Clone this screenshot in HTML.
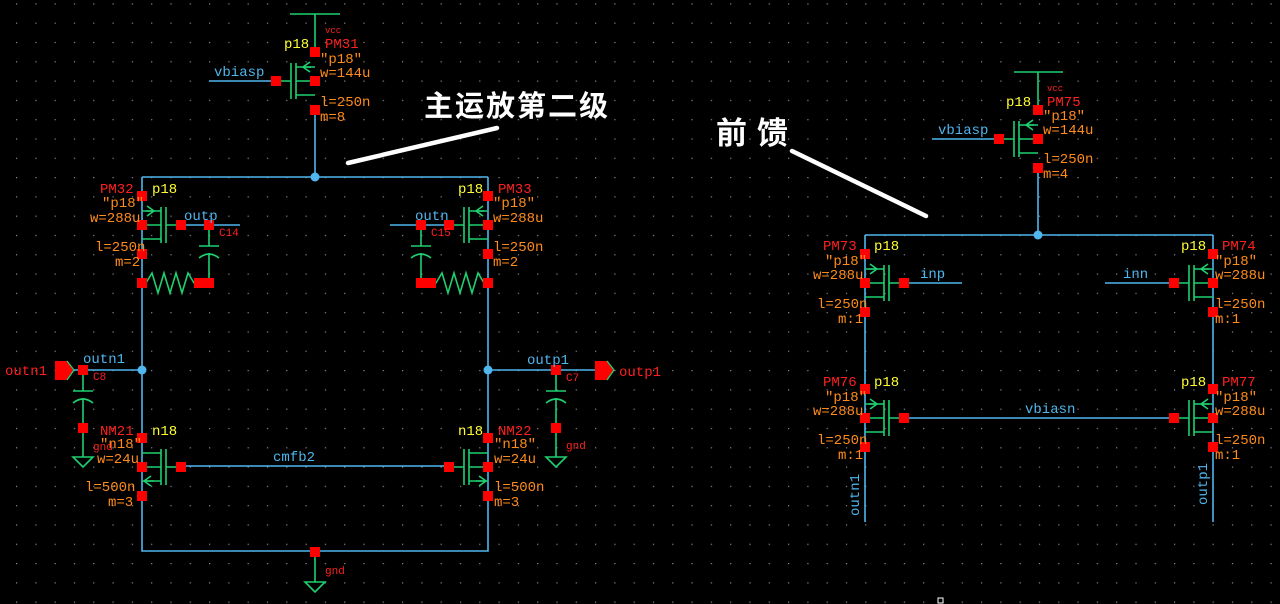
<!DOCTYPE html>
<html><head><meta charset="utf-8">
<style>
html,body{margin:0;padding:0;background:#000;}
svg{display:block;}
text{font-family:"Liberation Mono",monospace;font-size:14px;}
.o{fill:#ff8c1a}.r{fill:#ff2020}.y{fill:#ffff33}.b{fill:#4fb6ee}
.cn{font-family:"Liberation Sans","Noto Sans CJK SC",sans-serif;font-weight:bold;fill:#fff}
</style></head><body>
<svg width="1280" height="604" viewBox="0 0 1280 604" xmlns="http://www.w3.org/2000/svg">
<defs>
<pattern id="g" x="16" y="3.3" width="19.3" height="19.3" patternUnits="userSpaceOnUse">
<rect x="0" y="0" width="1.2" height="1.2" fill="#8a8a9a"/>
</pattern>
<g id="pm">
<g stroke="#1fd070" stroke-width="1.6" fill="none">
<path d="M0,-14H19M0,0H19M0,14H19M19,-18V18M24,-18V18M24,0H39"/>
<path d="M5,-19L12,-14L5,-9M4,-14H12"/>
</g>
<rect x="-5" y="-34" width="10" height="10" fill="#f00"/>
<rect x="-5" y="-5" width="10" height="10" fill="#f00"/>
<rect x="-5" y="24" width="10" height="10" fill="#f00"/>
<rect x="34" y="-5" width="10" height="10" fill="#f00"/>
</g>
<g id="nm">
<g stroke="#1fd070" stroke-width="1.6" fill="none">
<path d="M0,-14H19M0,0H19M0,14H19M19,-18V18M24,-18V18M24,0H39"/>
<path d="M9,9L2,14L9,19M2,14H12"/>
</g>
<rect x="-5" y="-34" width="10" height="10" fill="#f00"/>
<rect x="-5" y="-5" width="10" height="10" fill="#f00"/>
<rect x="-5" y="24" width="10" height="10" fill="#f00"/>
<rect x="34" y="-5" width="10" height="10" fill="#f00"/>
</g>
<g id="cap">
<g stroke="#1fd070" stroke-width="1.6" fill="none">
<path d="M0,0V21M-10,21H10M-10,33Q0,25 10,33M0,28V58"/>
</g>
</g>
<g id="gnd"><path d="M-10,0H10L0,10Z" fill="none" stroke="#1fd070" stroke-width="1.6"/></g>
</defs>
<rect width="1280" height="604" fill="#000"/>
<rect width="1280" height="604" fill="url(#g)"/>

<g stroke="#4fb6ee" stroke-width="1.6" fill="none">
<path d="M209,81H276"/>
<path d="M315,110V177M142,177H488M142,177V551H488V177"/>
<path d="M180,225H240M390,225H450"/>
<path d="M55,370H142M488,370H595"/>
<path d="M180,466H450"/>
</g>
<g stroke="#1fd070" stroke-width="1.6" fill="none">
<path d="M290,14H340M315,14V52"/>
<path d="M315,553V582"/>
<path d="M146,283l6,-10l6,20l6,-20l6,20l6,-20l6,20l6,-20l6,10H199"/>
<path d="M484,283l-6,-10l-6,20l-6,-20l-6,20l-6,-20l-6,20l-6,-20l-6,10H431"/>
<path d="M83,428V457M556,428V457"/>
</g>
<use href="#gnd" x="315" y="582"/>
<use href="#gnd" x="83" y="457"/>
<use href="#gnd" x="556" y="457"/>
<rect x="310" y="547" width="10" height="10" fill="#f00"/>
<circle cx="315" cy="177" r="4.5" fill="#4fb6ee"/>
<circle cx="142" cy="370" r="4.5" fill="#4fb6ee"/>
<circle cx="488" cy="370" r="4.5" fill="#4fb6ee"/>

<g transform="translate(315,81) scale(-1,1)"><use href="#pm"/></g>
<g transform="translate(142,225)"><use href="#pm"/></g>
<g transform="translate(488,225) scale(-1,1)"><use href="#pm"/></g>
<rect x="137" y="278" width="10" height="10" fill="#f00"/>
<rect x="483" y="278" width="10" height="10" fill="#f00"/>
<use href="#cap" x="209" y="225"/>
<use href="#cap" x="421" y="225"/>
<rect x="204" y="220" width="10" height="10" fill="#f00"/>
<rect x="416" y="220" width="10" height="10" fill="#f00"/>
<rect x="194" y="278" width="10" height="10" fill="#f00"/>
<rect x="204" y="278" width="10" height="10" fill="#f00"/>
<rect x="416" y="278" width="10" height="10" fill="#f00"/>
<rect x="426" y="278" width="10" height="10" fill="#f00"/>
<g transform="translate(142,467)"><use href="#nm"/></g>
<g transform="translate(488,467) scale(-1,1)"><use href="#nm"/></g>
<use href="#cap" x="83" y="370"/>
<use href="#cap" x="556" y="370"/>
<rect x="78" y="365" width="10" height="10" fill="#f00"/>
<rect x="78" y="423" width="10" height="10" fill="#f00"/>
<rect x="551" y="365" width="10" height="10" fill="#f00"/>
<rect x="551" y="423" width="10" height="10" fill="#f00"/>
<path d="M55,361H67L74,370L67,380H55Z" fill="#f00"/>
<path d="M67,361L74,370L67,380" fill="none" stroke="#1fd070" stroke-width="1.3"/>
<path d="M595,361H607L614,370L607,380H595Z" fill="#f00"/>
<path d="M607,361L614,370L607,380" fill="none" stroke="#1fd070" stroke-width="1.3"/>

<text x="325" y="33" class="r" style="font-size:9px">vcc</text>
<text x="325" y="48" class="r">PM31</text>
<text x="284" y="48" class="y">p18</text>
<text x="320" y="63" class="o">"p18"</text>
<text x="320" y="77" class="o">w=144u</text>
<text x="320" y="106" class="o">l=250n</text>
<text x="320" y="121" class="o">m=8</text>
<text x="214" y="76" class="b">vbiasp</text>

<text x="100" y="193" class="r">PM32</text>
<text x="152" y="193" class="y">p18</text>
<text x="102" y="207" class="o">"p18"</text>
<text x="90" y="222" class="o">w=288u</text>
<text x="95" y="251" class="o">l=250n</text>
<text x="115" y="266" class="o">m=2</text>
<text x="184" y="220" class="b">outp</text>
<text x="219" y="236" class="r" style="font-size:11px">C14</text>

<text x="498" y="193" class="r">PM33</text>
<text x="458" y="193" class="y">p18</text>
<text x="493" y="207" class="o">"p18"</text>
<text x="493" y="222" class="o">w=288u</text>
<text x="493" y="251" class="o">l=250n</text>
<text x="493" y="266" class="o">m=2</text>
<text x="415" y="220" class="b">outn</text>
<text x="431" y="236" class="r" style="font-size:11px">C15</text>

<text x="5" y="375" class="r">outn1</text>
<text x="83" y="363" class="b">outn1</text>
<text x="93" y="380" class="r" style="font-size:11px">C8</text>
<text x="100" y="435" class="r">NM21</text>
<text x="152" y="435" class="y">n18</text>
<text x="93" y="450" class="r" style="font-size:11px">gnd</text>
<text x="100" y="448" class="o">"n18"</text>
<text x="97" y="463" class="o">w=24u</text>
<text x="85" y="491" class="o">l=500n</text>
<text x="108" y="506" class="o">m=3</text>
<text x="273" y="461" class="b">cmfb2</text>
<text x="325" y="574" class="r" style="font-size:11px">gnd</text>

<text x="619" y="376" class="r">outp1</text>
<text x="527" y="364" class="b">outp1</text>
<text x="566" y="381" class="r" style="font-size:11px">C7</text>
<text x="566" y="449" class="r" style="font-size:11px">gnd</text>
<text x="498" y="435" class="r">NM22</text>
<text x="458" y="435" class="y">n18</text>
<text x="494" y="448" class="o">"n18"</text>
<text x="494" y="463" class="o">w=24u</text>
<text x="494" y="491" class="o">l=500n</text>
<text x="494" y="506" class="o">m=3</text>

<text x="424" y="116" class="cn" style="font-size:29px;letter-spacing:2px">主运放第二级</text>
<line x1="348" y1="163" x2="497" y2="128" stroke="#fff" stroke-width="4.5" stroke-linecap="round"/>
<text x="716" y="144" class="cn" style="font-size:31px;letter-spacing:10px">前馈</text>
<line x1="792" y1="151" x2="926" y2="216" stroke="#fff" stroke-width="4.5" stroke-linecap="round"/>

<g stroke="#4fb6ee" stroke-width="1.6" fill="none">
<path d="M932,139H999"/>
<path d="M1038,167V235M865,235H1213M865,235V522M1213,235V522"/>
<path d="M903,283H962M1105,283H1175"/>
<path d="M903,418H1175"/>
</g>
<g stroke="#1fd070" stroke-width="1.6" fill="none"><path d="M1014,72H1063M1038,72V110"/></g>
<circle cx="1038" cy="235" r="4.5" fill="#4fb6ee"/>
<g transform="translate(1038,139) scale(-1,1)"><use href="#pm"/></g>
<g transform="translate(865,283)"><use href="#pm"/></g>
<g transform="translate(1213,283) scale(-1,1)"><use href="#pm"/></g>
<g transform="translate(865,418)"><use href="#pm"/></g>
<g transform="translate(1213,418) scale(-1,1)"><use href="#pm"/></g>

<text x="1047" y="91" class="r" style="font-size:9px">vcc</text>
<text x="1047" y="106" class="r">PM75</text>
<text x="1006" y="106" class="y">p18</text>
<text x="1043" y="120" class="o">"p18"</text>
<text x="1043" y="134" class="o">w=144u</text>
<text x="1043" y="163" class="o">l=250n</text>
<text x="1043" y="178" class="o">m=4</text>
<text x="938" y="134" class="b">vbiasp</text>

<text x="823" y="250" class="r">PM73</text>
<text x="874" y="250" class="y">p18</text>
<text x="825" y="265" class="o">"p18"</text>
<text x="813" y="279" class="o">w=288u</text>
<text x="817" y="308" class="o">l=250n</text>
<text x="838" y="323" class="o">m:1</text>
<text x="920" y="278" class="b">inp</text>

<text x="1222" y="250" class="r">PM74</text>
<text x="1181" y="250" class="y">p18</text>
<text x="1215" y="265" class="o">"p18"</text>
<text x="1215" y="279" class="o">w=288u</text>
<text x="1215" y="308" class="o">l=250n</text>
<text x="1215" y="323" class="o">m:1</text>
<text x="1123" y="278" class="b">inn</text>

<text x="823" y="386" class="r">PM76</text>
<text x="874" y="386" class="y">p18</text>
<text x="825" y="401" class="o">"p18"</text>
<text x="813" y="415" class="o">w=288u</text>
<text x="817" y="444" class="o">l=250n</text>
<text x="838" y="459" class="o">m:1</text>
<text x="1025" y="413" class="b">vbiasn</text>

<text x="1222" y="386" class="r">PM77</text>
<text x="1181" y="386" class="y">p18</text>
<text x="1215" y="401" class="o">"p18"</text>
<text x="1215" y="415" class="o">w=288u</text>
<text x="1215" y="444" class="o">l=250n</text>
<text x="1215" y="459" class="o">m:1</text>

<text transform="translate(859,516) rotate(-90)" class="b">outn1</text>
<text transform="translate(1207,505) rotate(-90)" class="b">outp1</text>
<rect x="938" y="598" width="5" height="5" fill="none" stroke="#fff" stroke-width="1"/>
</svg>
</body></html>
